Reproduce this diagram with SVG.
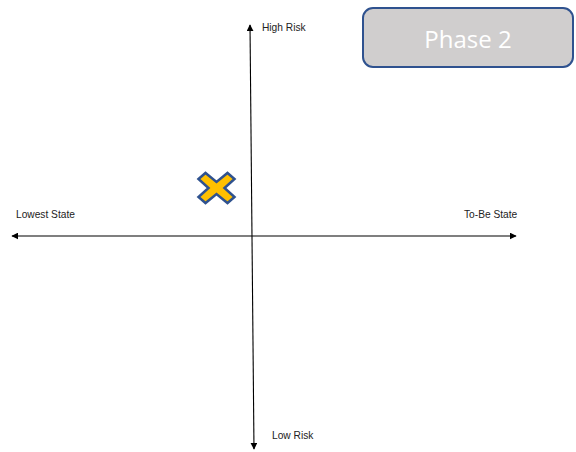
<svg xmlns="http://www.w3.org/2000/svg" width="576" height="452" viewBox="0 0 576 452">
  <style>
    .lbl { font-family: "Liberation Sans", Arial, sans-serif; font-size: 10.2px; fill: #222; }
    .axis { stroke: #000; stroke-width: 1.1; fill: none; }
  </style>
  <defs>
    <marker id="arrow" viewBox="0 0 10 10" refX="9" refY="5" markerWidth="7" markerHeight="7" markerUnits="userSpaceOnUse" orient="auto-start-reverse">
      <path d="M0,0 L10,5 L0,10 Z" fill="#000"/>
    </marker>
  </defs>
  <rect width="576" height="452" fill="#fff"/>

  <g id="connectors">
    <!-- risk axis (vertical, slightly tilted) -->
    <line class="axis" x1="250" y1="25" x2="254" y2="449" marker-start="url(#arrow)" marker-end="url(#arrow)"/>
    <!-- state axis (horizontal) -->
    <line class="axis" x1="12" y1="236" x2="516" y2="236" marker-start="url(#arrow)" marker-end="url(#arrow)"/>
  </g>

  <g id="high-risk"><text class="lbl" x="262" y="31">High Risk</text></g>
  <g id="low-risk"><text class="lbl" x="272" y="439">Low Risk</text></g>
  <g id="lowest-state"><text class="lbl" x="16" y="218">Lowest State</text></g>
  <g id="to-be-state"><text class="lbl" x="464" y="218">To-Be State</text></g>

  <g id="phase-2">
    <rect x="363" y="8" width="210" height="59" rx="10" fill="#D0CECE" stroke="#2F528F" stroke-width="2"/>
    <text x="468" y="48" text-anchor="middle" font-family="'Open Sans', 'Liberation Sans', sans-serif" font-size="24" fill="#fff">Phase 2</text>
  </g>

  <g id="marker-x" transform="translate(216.5,188)">
    <polygon points="-18,-9 -11,-15 0,-6 11,-15 18,-9 8,0 18,9 11,15 0,6 -11,15 -18,9 -8,0" fill="#FFC000" stroke="#2F528F" stroke-width="2.5" stroke-linejoin="miter"/>
  </g>
</svg>
